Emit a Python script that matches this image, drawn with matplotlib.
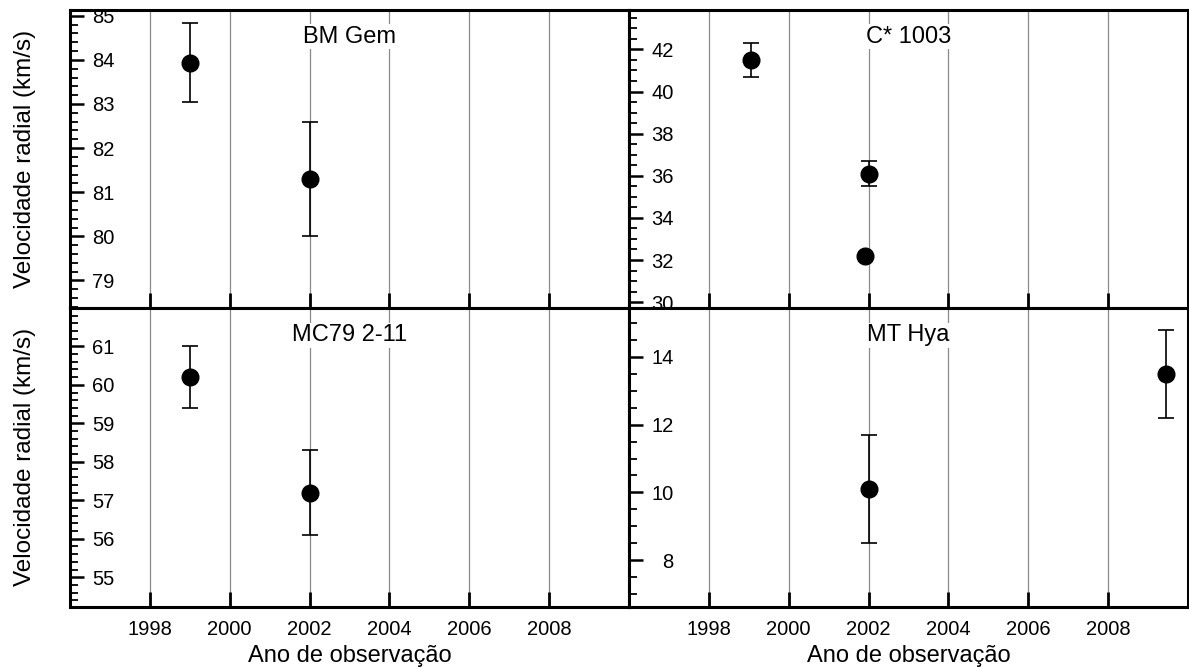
import matplotlib
matplotlib.use("Agg")
import matplotlib.pyplot as plt
from matplotlib.ticker import MultipleLocator

plt.rcParams['font.family'] = ['Liberation Sans', 'DejaVu Sans']

# Dados (ano, velocidade radial, erro)
bm_gem_ano = [1999.0, 2002.0]
bm_gem_vr = [83.94, 81.3]
bm_gem_err = [0.9, 1.3]

c1003_ano = [1999.05, 2002.0, 2001.9]
c1003_vr = [41.5, 36.1, 32.2]
c1003_err = [0.8, 0.6, 0.0]

mc79_ano = [1999.0, 2002.0]
mc79_vr = [60.2, 57.2]
mc79_err = [0.8, 1.1]

mt_hya_ano = [2002.0, 2009.45]
mt_hya_vr = [10.1, 13.5]
mt_hya_err = [1.6, 1.3]

anos_ticks = [1998, 2000, 2002, 2004, 2006, 2008]

paineis = [
    ("BM Gem", bm_gem_ano, bm_gem_vr, bm_gem_err, (78.37, 85.13), 1, 0.2),
    ("C* 1003", c1003_ano, c1003_vr, c1003_err, (29.71, 43.87), 2, 0.5),
    ("MC79 2-11", mc79_ano, mc79_vr, mc79_err, (54.24, 61.99), 1, 0.2),
    ("MT Hya", mt_hya_ano, mt_hya_vr, mt_hya_err, (6.63, 15.44), 2, 0.5),
]

fig, axes = plt.subplots(2, 2, figsize=(11.89, 6.67), dpi=100)
fig.subplots_adjust(left=70 / 1189, right=1188 / 1189, top=1 - 10 / 667,
                    bottom=1 - 606.5 / 667, hspace=0, wspace=0)

for ax, (nome, ano, vr, err, ylim, maior, menor) in zip(axes.flat, paineis):
    for x in anos_ticks:
        ax.axvline(x, color='#8a8a8a', lw=0.9, zorder=0)
    ax.errorbar(ano, vr, yerr=err, fmt='o', color='black', ms=12,
                elinewidth=1.2, capsize=6, capthick=1.2, zorder=3)
    ax.set_xlim(1996, 2010)
    ax.set_ylim(*ylim)
    ax.set_xticks(anos_ticks)
    ax.yaxis.set_major_locator(MultipleLocator(maior))
    ax.yaxis.set_minor_locator(MultipleLocator(menor))
    ax.tick_params(axis='x', direction='in', length=11, width=2, pad=10,
                   labelsize=14.5, top=False)
    ax.tick_params(axis='y', which='major', direction='in', length=10,
                   width=1.8, pad=-32, labelsize=14.5, right=False)
    ax.tick_params(axis='y', which='minor', direction='in', length=6,
                   width=1.3, right=False)
    for lab in ax.get_yticklabels():
        lab.set_horizontalalignment('right')
    for s in ax.spines.values():
        s.set_linewidth(2.2)
    ax.text(0.5, 0.91, nome, transform=ax.transAxes, ha='center', va='center',
            fontsize=17, bbox=dict(facecolor='white', edgecolor='none', pad=1),
            zorder=2)

for ax in axes[0]:
    ax.tick_params(axis='x', labelbottom=False)

for ax in axes[1]:
    ax.set_xlabel("Ano de observação", fontsize=17, labelpad=4)

for ax in axes[:, 0]:
    ax.set_ylabel("Velocidade radial (km/s)", fontsize=17.5)
    ax.yaxis.set_label_coords(-0.061, 0.5)

plt.savefig("out.png", dpi=100)
